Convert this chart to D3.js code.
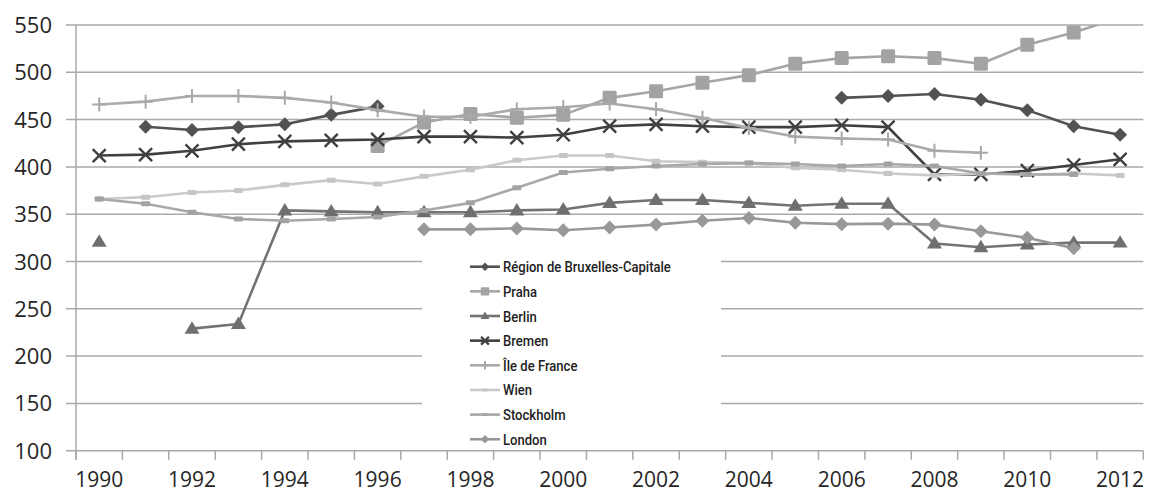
<!DOCTYPE html>
<html><head><meta charset="utf-8">
<script src="https://cdn.jsdelivr.net/npm/d3@7"></script>
<style>html,body{margin:0;padding:0;background:#fff;}svg{display:block;}</style>
</head><body>
<svg id="chart" width="1150" height="493"></svg>
<script>
const years = d3.range(1990, 2013);
const xTickLabels = [1990,1992,1994,1996,1998,2000,2002,2004,2006,2008,2010,2012];
const yTicks = [100,150,200,250,300,350,400,450,500,550];
const seriesNames = ["Région de Bruxelles-Capitale","Praha","Berlin","Bremen","Île de France","Wien","Stockholm","London"];
const N = null;
const bruxelles = [N,442.5,439,442,445,455,464,N,N,N,N,N,N,N,N,N,473,475,477,471,460,443,434];
const praha     = [N,N,N,N,N,N,422,447,456,452,455,473,480,489,497,509,515,517,515,509,529,542,558];
const berlin    = [321,N,229,234,354,353,352,352,352,354,355,362,365,365,362,359,361,361,319,315,318,320,320];
const bremen    = [412,413,417,424,427,428,429,432,432,431,434,443,445,443,442,442,444,442,392,392,396,402,408];
const ileDeFrance = [466,469,475,475,473,468,460,453,453,461,463,467,461,452,441,432,430,429,417,415,N,N,N];
const wien      = [366,368,373,375,381,386,382,390,397,407,412,412,406,405,404,399,397,393,391,393,392,393,391];
const stockholm = [366,361,352,345,343,345,347,354,362,378,394,398,401,403,404,403,401,403,401,393,392,392,N];
const london    = [N,N,N,N,N,N,N,334,334,335,333,336,339,343,346,341,339.5,340,339,332,325,314,N];
const seriesValues = [bruxelles, praha, berlin, bremen, ileDeFrance, wien, stockholm, london];

const styles = [
  {color:"#525252", marker:"diamond", mfill:"#525252"},
  {color:"#a6a6a6", marker:"square",  mfill:"#a3a3a3"},
  {color:"#737373", marker:"triangle",mfill:"#6f6f6f"},
  {color:"#404040", marker:"x",       mfill:"#404040"},
  {color:"#ababab", marker:"plus",    mfill:"#a8a8a8"},
  {color:"#cacaca", marker:"dash",    mfill:"#c6c6c6"},
  {color:"#a8a8a8", marker:"dash",    mfill:"#a3a3a3"},
  {color:"#989898", marker:"diamond", mfill:"#989898"}
];

const svg = d3.select("#chart");
const L = 76, R = 1143.3, T = 25, B = 450.7;
const x = d3.scaleBand().domain(years).range([L, R]).padding(0);
const cx = d => x(d) + x.bandwidth()/2;
const y = d3.scaleLinear().domain([100, 550]).range([B, T]);

const gridColor = "#a9a9a9";
svg.append("g").selectAll("line").data(yTicks.filter(v => v !== 100)).join("line")
  .attr("x1", L - 10).attr("x2", R).attr("y1", d => y(d)).attr("y2", d => y(d))
  .attr("stroke", gridColor).attr("stroke-width", 1.5);
svg.append("line").attr("x1", L).attr("x2", L).attr("y1", T).attr("y2", B + 9)
  .attr("stroke", gridColor).attr("stroke-width", 1.5);
svg.append("g").selectAll("text").data(yTicks).join("text")
  .attr("x", 52).attr("y", d => y(d) + 8).attr("text-anchor", "end")
  .attr("font-family", "'Open Sans', sans-serif").attr("font-size", 22).attr("fill", "#262626")
  .text(d => d);

svg.append("clipPath").attr("id", "plotclip").append("rect")
  .attr("x", L).attr("y", T).attr("width", R - L).attr("height", B - T + 10);
const plot = svg.append("g").attr("clip-path", "url(#plotclip)");

function drawMarker(g, type, px, py, fill, s) {
  if (type === "diamond") {
    const h = 7 * s;
    g.append("path").attr("d", `M${px},${py-h}L${px+h},${py}L${px},${py+h}L${px-h},${py}Z`).attr("fill", fill);
  } else if (type === "square") {
    const h = 7 * s;
    g.append("rect").attr("x", px-h).attr("y", py-h).attr("width", 2*h).attr("height", 2*h)
      .attr("rx", 1.5*s).attr("fill", fill);
  } else if (type === "triangle") {
    const w = 7.5 * s, hh = 12 * s;
    g.append("path").attr("d", `M${px},${py-hh*0.62}L${px+w},${py+hh*0.42}L${px-w},${py+hh*0.42}Z`).attr("fill", fill);
  } else if (type === "x") {
    const h = 6.5 * s;
    g.append("path").attr("d", `M${px-h},${py-h}L${px+h},${py+h}M${px-h},${py+h}L${px+h},${py-h}`)
      .attr("stroke", fill).attr("stroke-width", 2.4).attr("fill", "none");
  } else if (type === "plus") {
    const h = 7 * s;
    g.append("path").attr("d", `M${px-h},${py}L${px+h},${py}M${px},${py-h}L${px},${py+h}`)
      .attr("stroke", fill).attr("stroke-width", 2).attr("fill", "none");
  } else if (type === "dash") {
    g.append("rect").attr("x", px-4.5*s).attr("y", py-2.5*s).attr("width", 9*s).attr("height", 5*s)
      .attr("rx", 1).attr("fill", fill);
  }
}

const line = d3.line().defined(d => d.v != null).x(d => cx(d.yr)).y(d => y(d.v));
seriesValues.forEach((vals, i) => {
  const st = styles[i];
  const data = years.map((yr, j) => ({yr, v: vals[j]}));
  const g = plot.append("g");
  g.append("path").datum(data).attr("d", line).attr("fill", "none")
    .attr("stroke", st.color).attr("stroke-width", 2.6).attr("stroke-linejoin", "round");
  data.filter(d => d.v != null && d.v <= 560).forEach(d => drawMarker(g, st.marker, cx(d.yr), y(d.v), st.mfill, 1));
});

svg.append("line").attr("x1", L - 10).attr("x2", R).attr("y1", B).attr("y2", B)
  .attr("stroke", gridColor).attr("stroke-width", 1.5);
const bounds = years.map(d => x(d)).concat([R]);
svg.append("g").selectAll("line").data(bounds).join("line")
  .attr("x1", d => d).attr("x2", d => d).attr("y1", B).attr("y2", B + 9)
  .attr("stroke", gridColor).attr("stroke-width", 1.5);
svg.append("g").selectAll("text").data(xTickLabels).join("text")
  .attr("x", d => cx(d)).attr("y", 487).attr("text-anchor", "middle")
  .attr("font-family", "'Open Sans', sans-serif").attr("font-size", 21).attr("fill", "#262626")
  .text(d => d);

const lg = svg.append("g");
lg.append("rect").attr("x", 422).attr("y", 253).attr("width", 299).attr("height", 196).attr("fill", "#fff");
const rowY = i => 266.7 + i * 24.65;
const texts = [];
seriesNames.forEach((name, i) => {
  const st = styles[i];
  const yy = rowY(i);
  lg.append("line").attr("x1", 470).attr("x2", 500).attr("y1", yy).attr("y2", yy)
    .attr("stroke", st.color).attr("stroke-width", 2.6);
  drawMarker(lg, st.marker, 485, yy, st.mfill, 0.6);
  const t = lg.append("text").attr("x", 0).attr("y", 0)
    .attr("font-family", "Roboto, sans-serif").attr("font-size", 15.5).attr("font-weight", 500)
    .attr("fill", "#1e1e1e").text(name);
  texts.push({t, yy});
});
const w0 = texts[0].t.node().getComputedTextLength();
const sx = 168 / w0;
texts.forEach(({t, yy}) => t.attr("transform", `translate(503,${yy + 5.5}) scale(${sx},1)`));
</script>
</body></html>
